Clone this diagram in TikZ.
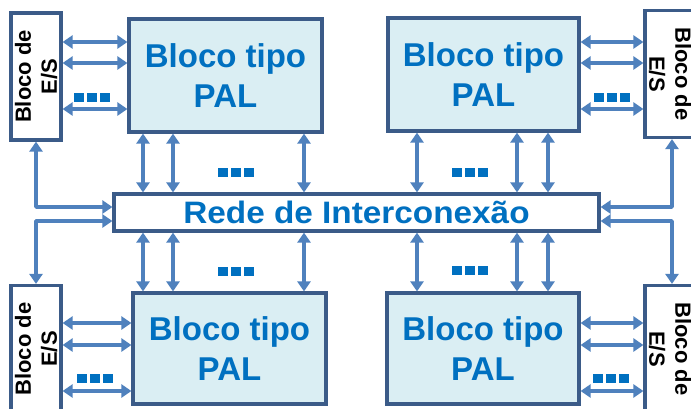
\documentclass[tikz,border=0pt]{standalone}
\usepackage{fontspec}
\setmainfont{Liberation Sans}
\usepackage{graphicx}
\usetikzlibrary{arrows.meta}
\definecolor{frameblue}{HTML}{3B5B88}
\definecolor{arrowblue}{HTML}{4F81BD}
\definecolor{textblue}{HTML}{0070C0}
\definecolor{palfill}{HTML}{DAEEF3}

\begin{document}
\begin{tikzpicture}[x=1pt,y=-1pt,
  palbox/.style={draw=frameblue, line width=3.2pt, fill=palfill,
    minimum width=193pt, minimum height=113pt, inner sep=0pt,
    align=center, text=textblue, font=\fontsize{33}{40}\selectfont\bfseries},
  iobox/.style={draw=frameblue, line width=3.2pt, fill=white,
    minimum width=50pt, minimum height=127pt, inner sep=0pt},
  iotext/.style={align=center, inner sep=0pt,
    font=\fontsize{22}{26}\selectfont\bfseries},
  redebox/.style={draw=frameblue, line width=3.2pt, fill=white,
    minimum width=485pt, minimum height=37pt, inner sep=0pt,
    text=textblue, font=\fontsize{31}{34}\selectfont\bfseries},
  arr/.style={draw=arrowblue, line width=3.4pt, line join=round,
    {Triangle[width=13pt,length=10pt]}-{Triangle[width=13pt,length=10pt]}},
  tresp/.pic={\foreach \k in {-1,0,1} \fill[textblue] (\k*13-5,-4.5) rectangle ++(10,9);}
]
\useasboundingbox (0,0) rectangle (691,408);
\clip (0,0) rectangle (691,408);
\fill[white] (0,0) rectangle (691,408);

% interconnection network
\node[redebox] (rede) at (356.5,212.5) {\scalebox{1.075}[1]{Rede de Interconexão}};

% PAL blocks
\node[palbox] (palTL) at (225.5,75.5) {Bloco tipo\\PAL};
\node[palbox, minimum width=191pt] (palTR) at (483.5,74.5) {Bloco tipo\\PAL};
\node[palbox, minimum height=111pt] (palBL) at (229.5,348.5) {Bloco tipo\\PAL};
\node[palbox, minimum width=192pt, minimum height=111pt] (palBR) at (483,348.5) {Bloco tipo\\PAL};

% I/O blocks
\node[iobox] (ioTL) at (36,76.5) {};
\node[iotext, rotate=90] (ioTLt) at (ioTL) {Bloco de\\E/S};
\node[iobox] (ioTR) at (670,74) {};
\node[iotext, rotate=-90] (ioTRt) at (ioTR) {Bloco de\\E/S};
\node[iobox] (ioBL) at (36,349) {};
\node[iotext, rotate=90] (ioBLt) at (ioBL) {Bloco de\\E/S};
\node[iobox] (ioBR) at (670,349) {};
\node[iotext, rotate=-90] (ioBRt) at (ioBR) {Bloco de\\E/S};

% I/O <-> PAL links
\foreach \yy in {42,63,109} {
  \draw[arr] (ioTL.east |- 0,\yy) -- (palTL.west |- 0,\yy);
  \draw[arr] (palTR.east |- 0,\yy) -- (ioTR.west |- 0,\yy);
}
\foreach \yy in {323,345,391} {
  \draw[arr] (ioBL.east |- 0,\yy) -- (palBL.west |- 0,\yy);
  \draw[arr] (palBR.east |- 0,\yy) -- (ioBR.west |- 0,\yy);
}

% PAL <-> network links
\foreach \xx in {143,173,304} {
  \draw[arr] (palTL.south -| \xx,0) -- (rede.north -| \xx,0);
  \draw[arr] (rede.south -| \xx,0) -- (palBL.north -| \xx,0);
}
\foreach \xx in {417,517,548} {
  \draw[arr] (palTR.south -| \xx,0) -- (rede.north -| \xx,0);
  \draw[arr] (rede.south -| \xx,0) -- (palBR.north -| \xx,0);
}

% I/O <-> network links
\draw[arr] (ioTL.south) |- (rede.west |- 0,207);
\draw[arr] (rede.west |- 0,221) -| (ioBL.north);
\draw[arr] ([xshift=2pt]ioTR.south) |- (rede.east |- 0,207);
\draw[arr] (rede.east |- 0,221) -| ([xshift=2pt]ioBR.north);

% ellipsis marks
\pic at (92,97) {tresp};
\pic at (611.5,97) {tresp};
\pic at (94.5,378.5) {tresp};
\pic at (611,378) {tresp};
\pic at (236,172.5) {tresp};
\pic at (470,172) {tresp};
\pic at (236,271) {tresp};
\pic at (470,270) {tresp};
\end{tikzpicture}
\end{document}
